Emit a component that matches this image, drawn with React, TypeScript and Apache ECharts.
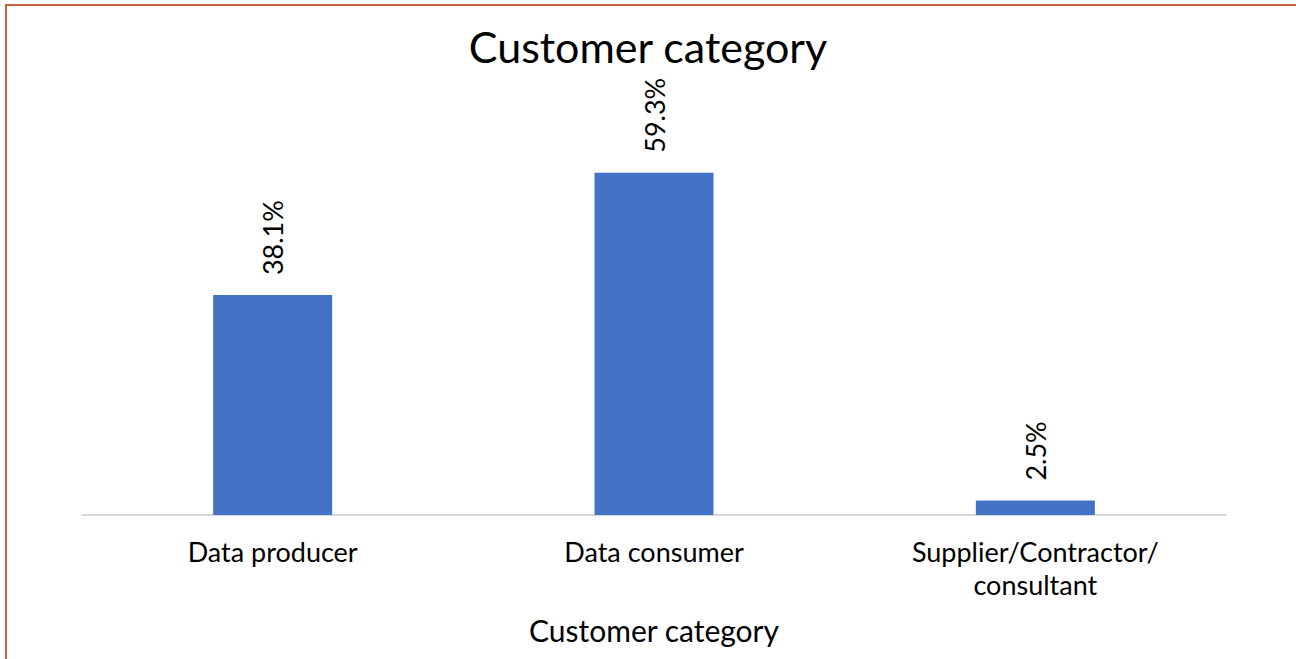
import React, { useEffect, useRef } from "react";
import * as echarts from "echarts";

const categories = ["Data producer", "Data consumer", "Supplier/Contractor/\nconsultant"];
const values = [38.1, 59.3, 2.5];
const titleText = "Customer category";
const axisName = "Customer category";

export default function App() {
  const ref = useRef<HTMLDivElement>(null);
  useEffect(() => {
    const chart = echarts.init(ref.current!, null, { renderer: "svg" });
    const font = "Lato, 'Open Sans', sans-serif";
    chart.setOption({
      animation: false,
      backgroundColor: "#ffffff",
      title: {
        text: titleText,
        left: "center",
        top: 20,
        textStyle: { fontFamily: font, fontSize: 43, fontWeight: "normal", color: "#000" },
      },
      grid: { left: 82, right: 70, top: 111, bottom: 144 },
      xAxis: {
        type: "category",
        data: categories,
        axisLine: { lineStyle: { color: "#d9d9d9", width: 2 } },
        axisTick: { show: false },
        axisLabel: { fontFamily: font, fontSize: 27, color: "#000", margin: 20, lineHeight: 33 },
        name: axisName,
        nameLocation: "middle",
        nameGap: 100,
        nameTextStyle: { fontFamily: font, fontSize: 30, color: "#000" },
      },
      yAxis: { type: "value", min: 0, max: 70, show: false, splitLine: { show: false } },
      series: [
        {
          type: "bar",
          data: values,
          barWidth: 119,
          itemStyle: { color: "#4472C4" },
          label: {
            show: true,
            position: "top",
            rotate: 90,
            align: "left",
            verticalAlign: "middle",
            distance: 20,
            formatter: (p: any) => p.value.toFixed(1) + "%",
            fontFamily: font,
            fontSize: 27,
            color: "#000",
          },
        },
      ],
      graphic: [
        { type: "line", shape: { x1: 5, y1: 5, x2: 1296, y2: 5 }, style: { stroke: "#C9623F", lineWidth: 2 } },
        { type: "line", shape: { x1: 6, y1: 5, x2: 6, y2: 659 }, style: { stroke: "#C9623F", lineWidth: 2 } },
      ],
    });
    return () => chart.dispose();
  }, []);
  return (
    <div
      ref={ref}
      style={{ position: "fixed", left: 0, top: 0, width: 1296, height: 659 }}
    />
  );
}
